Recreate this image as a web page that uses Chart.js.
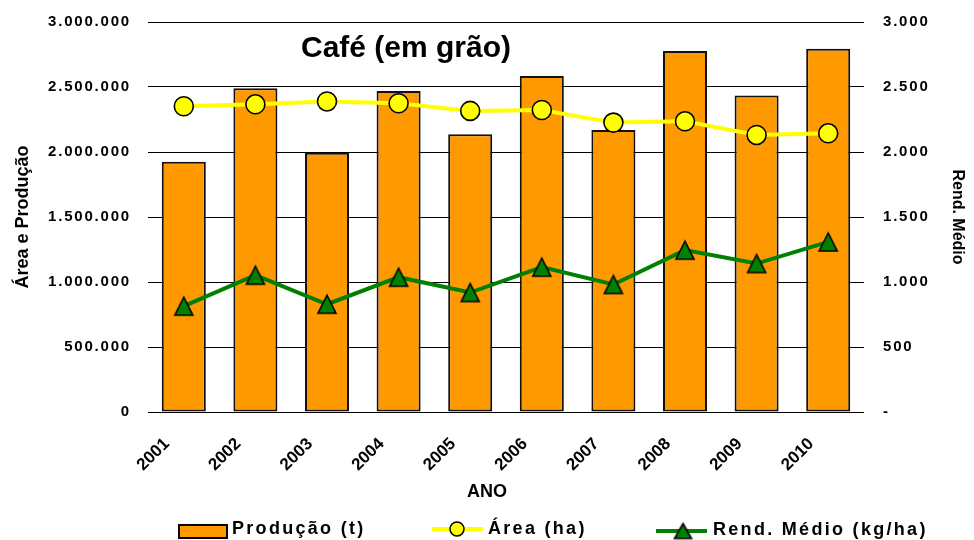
<!DOCTYPE html>
<html>
<head>
<meta charset="utf-8">
<script src="https://cdn.jsdelivr.net/npm/chart.js@4.4.0/dist/chart.umd.min.js"></script>
<style>
html,body{margin:0;padding:0;background:#fff;}
canvas{display:block;}
</style>
</head>
<body>
<canvas id="c" width="974" height="540"></canvas>
<script>
// ---- data ----
const anos = ['2001','2002','2003','2004','2005','2006','2007','2008','2009','2010'];
const producao = [1925000, 2490000, 1995000, 2469000, 2136000, 2585000, 2169000, 2777000, 2434000, 2795000];
const area = [2352000, 2367000, 2389000, 2375000, 2316000, 2323000, 2226000, 2236000, 2131000, 2144000];
const rendimento = [814, 1052, 829, 1037, 919, 1114, 981, 1245, 1142, 1308];
const ticksEsquerda = ['0','500.000','1.000.000','1.500.000','2.000.000','2.500.000','3.000.000'];
const ticksDireita = ['-','500','1.000','1.500','2.000','2.500','3.000'];
const titulo = 'Café (em grão)';

const FONT = '"Liberation Sans", Arial, sans-serif';
Chart.defaults.font.family = FONT;
Chart.defaults.color = '#000';

function makeTriangle(w, h) {
  const c = document.createElement('canvas');
  c.width = w + 4; c.height = h + 4;
  const x = c.getContext('2d');
  x.beginPath();
  x.moveTo(2 + w / 2, 2);
  x.lineTo(2 + w, 2 + h);
  x.lineTo(2, 2 + h);
  x.closePath();
  x.fillStyle = '#008000';
  x.fill();
  x.lineWidth = 1.6;
  x.strokeStyle = '#000';
  x.lineJoin = 'miter';
  x.stroke();
  return c;
}
const triPoint = makeTriangle(18, 18);
const triLegend = makeTriangle(17, 15);

const tickSpacing = {
  id: 'tickSpacing',
  afterLayout(chart) {
    ['y', 'y1'].forEach(id => {
      const s = chart.scales[id];
      if (s && !s._lsPatched) {
        const orig = s.drawLabels;
        s.drawLabels = function (area) {
          const ctx = this.ctx;
          ctx.save();
          ctx.letterSpacing = '1.8px';
          orig.call(this, area);
          ctx.restore();
        };
        s._lsPatched = true;
      }
    });
  }
};

const extras = {
  id: 'extras',
  afterDraw(chart) {
    const ctx = chart.ctx;
    const ds = chart.data.datasets;
    ctx.save();
    // main title inside plot
    ctx.font = 'bold 30px ' + FONT;
    ctx.fillStyle = '#000';
    ctx.textAlign = 'center';
    ctx.textBaseline = 'alphabetic';
    ctx.fillText(titulo, 406, 57);

    // legend
    ctx.font = 'bold 18px ' + FONT;
    ctx.letterSpacing = '2.3px';
    ctx.textAlign = 'left';
    // Produção
    ctx.fillStyle = '#FF9900';
    ctx.fillRect(179, 525, 48, 13);
    ctx.strokeStyle = '#000';
    ctx.lineWidth = 2;
    ctx.strokeRect(179, 525, 48, 13);
    ctx.fillStyle = '#000';
    ctx.fillText(ds[0].label, 232, 534);
    // Área
    ctx.strokeStyle = '#FFFF00';
    ctx.lineWidth = 4;
    ctx.beginPath(); ctx.moveTo(432, 529); ctx.lineTo(483, 529); ctx.stroke();
    ctx.beginPath(); ctx.arc(457, 529, 7, 0, Math.PI * 2);
    ctx.fillStyle = '#FFFF00'; ctx.fill();
    ctx.lineWidth = 1.5; ctx.strokeStyle = '#000'; ctx.stroke();
    ctx.fillStyle = '#000';
    ctx.fillText(ds[1].label, 488, 534);
    // Rend
    ctx.strokeStyle = '#008000';
    ctx.lineWidth = 4;
    ctx.beginPath(); ctx.moveTo(656, 531); ctx.lineTo(707, 531); ctx.stroke();
    ctx.drawImage(triLegend, 683 - triLegend.width / 2, 531 - triLegend.height / 2);
    ctx.fillStyle = '#000';
    ctx.fillText(ds[2].label, 713, 535);
    ctx.restore();
  }
};

new Chart(document.getElementById('c'), {
  data: {
    labels: anos,
    datasets: [
      {
        type: 'bar',
        label: 'Produção (t)',
        data: producao,
        yAxisID: 'y',
        backgroundColor: '#FF9900',
        borderColor: '#111',
        borderWidth: 2,
        borderSkipped: false,
        barPercentage: 0.615,
        categoryPercentage: 1,
        order: 3
      },
      {
        type: 'line',
        label: 'Área (ha)',
        data: area,
        yAxisID: 'y',
        borderColor: '#FFFF00',
        borderWidth: 4,
        tension: 0,
        pointStyle: 'circle',
        pointRadius: 9.5,
        pointBackgroundColor: '#FFFF00',
        pointBorderColor: '#000',
        pointBorderWidth: 1.6,
        order: 1
      },
      {
        type: 'line',
        label: 'Rend. Médio (kg/ha)',
        data: rendimento,
        yAxisID: 'y1',
        borderColor: '#008000',
        borderWidth: 4,
        tension: 0,
        pointStyle: triPoint,
        pointRadius: 10,
        order: 2
      }
    ]
  },
  options: {
    responsive: false,
    animation: false,
    devicePixelRatio: 1,
    layout: { padding: { top: 22, left: 0, right: 0, bottom: 32 } },
    plugins: {
      legend: { display: false },
      tooltip: { enabled: false },
      title: {
        display: true,
        position: 'bottom',
        text: 'ANO',
        color: '#000',
        font: { size: 18, weight: 'bold', family: FONT },
        padding: { top: 0, bottom: 5 }
      }
    },
    scales: {
      x: {
        grid: { display: false },
        border: { display: false },
        ticks: {
          autoSkip: false,
          minRotation: 45,
          maxRotation: 45,
          labelOffset: -17,
          padding: 14,
          color: '#000',
          font: { size: 17, weight: 'bold', family: FONT }
        },
        afterFit(s) { s.height = 69.4; }
      },
      y: {
        position: 'left',
        min: 0,
        max: 3000000,
        ticks: {
          stepSize: 500000,
          padding: 17,
          color: '#000',
          font: { size: 15, weight: 'bold', family: FONT },
          callback: (v, i) => ticksEsquerda[i]
        },
        grid: { color: '#000', lineWidth: 1, drawTicks: false },
        border: { display: false },
        title: {
          display: true,
          text: 'Área e Produção',
          color: '#000',
          font: { size: 18, weight: 'bold', family: FONT },
          padding: { top: 12, bottom: 0 }
        },
        afterFit(s) { s.width = 148; s.paddingTop = 10; s.paddingBottom = 10; }
      },
      y1: {
        position: 'right',
        min: 0,
        max: 3000,
        ticks: {
          stepSize: 500,
          padding: 19,
          color: '#000',
          font: { size: 15, weight: 'bold', family: FONT },
          callback: (v, i) => ticksDireita[i]
        },
        grid: { display: false, drawTicks: false },
        border: { display: false },
        title: {
          display: true,
          text: 'Rend. Médio',
          color: '#000',
          font: { size: 16, weight: 'bold', family: FONT },
          padding: { top: 7, bottom: 0 }
        },
        afterFit(s) { s.width = 110; s.paddingTop = 10; s.paddingBottom = 10; }
      }
    }
  },
  plugins: [tickSpacing, extras]
});
</script>
</body>
</html>
